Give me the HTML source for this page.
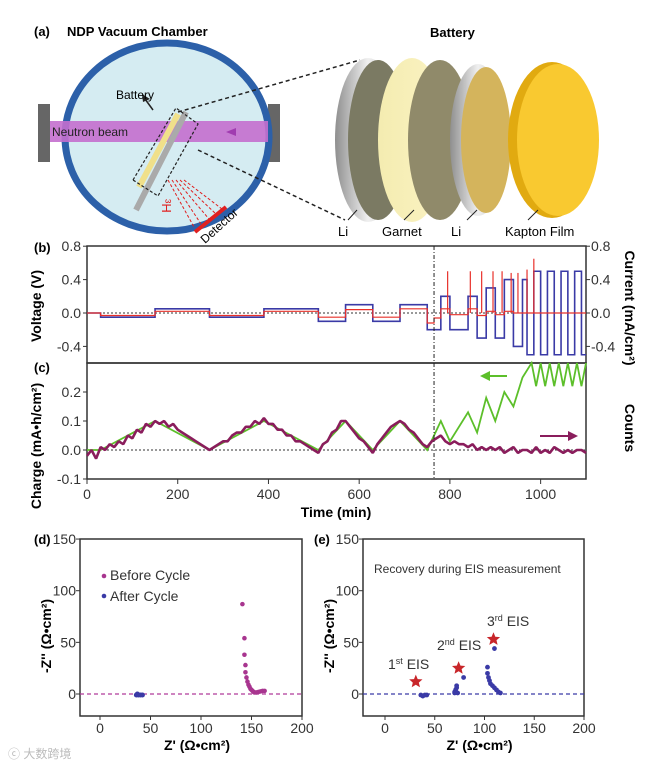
<!DOCTYPE html>
<html><head><meta charset="utf-8">
<style>
body{margin:0;background:#fff;}
svg{display:block;font-family:"Liberation Sans",Arial,sans-serif;}
</style></head>
<body>
<svg id="fig" width="647" height="764" viewBox="0 0 647 764" xmlns="http://www.w3.org/2000/svg">
<rect width="647" height="764" fill="#fff"/>
<!-- Panel a -->
<g id="panel-a">
  <rect x="38" y="104" width="12" height="58" fill="#666"/>
  <rect x="268" y="104" width="12" height="58" fill="#666"/>
  <ellipse cx="167" cy="137" rx="102" ry="94" fill="#d5ecf2" stroke="#2c60a9" stroke-width="7"/>
  <rect x="50" y="121" width="218" height="21" fill="#c46fce" opacity="0.9"/>
  <text x="52" y="136" font-size="12" fill="#222">Neutron beam</text>
  <polygon points="236,128 226,132 236,136" fill="#a03cb0"/>
  <line x1="136" y1="210" x2="186" y2="112" stroke="#aaa" stroke-width="6"/>
  <line x1="139" y1="187" x2="178" y2="114" stroke="#f0e08a" stroke-width="6"/>
  <polygon points="133,180 176,108 198,124 158,196" fill="none" stroke="#222" stroke-width="1.2" stroke-dasharray="3,2"/>
  <line x1="153" y1="110" x2="145" y2="99" stroke="#222" stroke-width="1.5"/>
  <polygon points="142,94 150,99 143,102" fill="#222"/>
  <text x="116" y="99" font-size="12">Battery</text>
  <g stroke="#e02020" stroke-width="1" stroke-dasharray="3,2" fill="none">
    <line x1="168" y1="180" x2="194" y2="227"/><line x1="172" y1="180" x2="201" y2="224"/>
    <line x1="176" y1="180" x2="209" y2="219"/><line x1="180" y1="180" x2="216" y2="214"/>
    <line x1="184" y1="180" x2="222" y2="209"/>
  </g>
  <line x1="195" y1="232" x2="226" y2="207" stroke="#e02020" stroke-width="4"/>
  <text x="0" y="0" font-size="12" transform="translate(205,244) rotate(-42)">Detector</text>
  <text x="0" y="0" font-size="13" fill="#e02020" transform="translate(162,199) rotate(90)">³H</text>
  <line x1="178" y1="112" x2="360" y2="60" stroke="#222" stroke-width="1.5" stroke-dasharray="4,3"/>
  <line x1="198" y1="150" x2="345" y2="220" stroke="#222" stroke-width="1.5" stroke-dasharray="4,3"/>
  <defs>
    <linearGradient id="li" x1="0" x2="1"><stop offset="0" stop-color="#8f8f8f"/><stop offset="0.5" stop-color="#f0f0f0"/><stop offset="1" stop-color="#bdbdbd"/></linearGradient>
    <linearGradient id="gar" x1="0" x2="1"><stop offset="0" stop-color="#f4ecb0"/><stop offset="1" stop-color="#fbf3c4"/></linearGradient>
  </defs>
  <g>
    <ellipse cx="368" cy="140" rx="33" ry="82" fill="url(#li)"/>
    <ellipse cx="378" cy="140" rx="30" ry="80" fill="#7b7a63"/>
    <ellipse cx="412" cy="140" rx="34" ry="82" fill="url(#gar)"/>
    <ellipse cx="440" cy="140" rx="32" ry="80" fill="#908a6a"/>
    <ellipse cx="478" cy="140" rx="28" ry="76" fill="url(#li)"/>
    <ellipse cx="486" cy="140" rx="25" ry="73" fill="#d4b45c"/>
    <ellipse cx="552" cy="140" rx="44" ry="78" fill="#e1aa10"/>
    <ellipse cx="558" cy="140" rx="41" ry="76" fill="#f9c930"/>
  </g>
  <g stroke="#222" stroke-width="1"><line x1="348" y1="220" x2="357" y2="210"/><line x1="404" y1="220" x2="414" y2="210"/><line x1="467" y1="220" x2="477" y2="210"/><line x1="528" y1="220" x2="538" y2="210"/></g>
  <g font-size="13">
    <text x="338" y="236">Li</text>
    <text x="382" y="236">Garnet</text>
    <text x="451" y="236">Li</text>
    <text x="505" y="236">Kapton Film</text>
  </g>
  <text x="34" y="36" font-size="13" font-weight="bold">(a)</text>
  <text x="67" y="36" font-size="13" font-weight="bold">NDP Vacuum Chamber</text>
  <text x="430" y="37" font-size="13" font-weight="bold">Battery</text>
</g>
<g id="bc"></g>
<g id="de"></g>
<text x="8" y="758" font-size="12" fill="#bbb" font-family="Liberation Sans, Noto Sans CJK SC, sans-serif">ⓒ 大数跨境</text>
</svg>
<script>
// ---- Panel b/c data ----
const stepTimes = [0,30,150,270,390,510,570,630,690,750,780,800,840,860,880,900,920,940,960,970,985,1000,1015,1030,1045,1060,1075,1090,1100];
const stepCurrents = [0,-0.05,0.05,-0.05,0.05,-0.1,0.1,-0.1,0.1,-0.2,0.2,-0.2,0.2,-0.3,0.3,-0.3,0.4,-0.4,0.4,-0.5,0.5,-0.5,0.5,-0.5,0.5,-0.5,0.5,-0.5];
const voltTimes = [0,30,150,270,390,510,570,630,690,750,765,780,800,840,860,880,900,920,940,960,1100];
const voltValues = [0,-0.03,0.02,-0.03,0.02,-0.05,0.04,-0.05,0.05,-0.12,-0.06,0.05,-0.02,0.05,-0.03,0.02,-0.02,0.02,0.0,0.0,0.0];
const spikeTimes = [795,845,870,895,915,935,950,970,985];
const spikeValues = [0.5,0.5,0.5,0.5,0.5,0.48,0.48,0.52,0.65];
const chargeTimes = [0,30,150,270,390,510,570,630,690,750,780,800,840,860,880,900,920,940,960,980,990,1000,1010,1020,1030,1040,1050,1060,1070,1080,1090,1100];
const chargeValues = [0,0,0.1,0,0.1,0,0.1,0,0.1,0,0.1,0.03,0.13,0.06,0.18,0.1,0.2,0.15,0.25,0.3,0.22,0.3,0.22,0.3,0.22,0.3,0.22,0.3,0.22,0.3,0.22,0.3];
const countsValues = [-0.02,0.0,-0.03,0.01,0.0,0.02,0.01,0.03,0.02,0.05,0.04,0.07,0.06,0.09,0.08,0.1,0.09,0.1,0.08,0.09,0.07,0.06,0.05,0.04,0.03,0.02,0.01,0.0,0.01,0.02,0.03,0.03,0.05,0.06,0.06,0.08,0.08,0.1,0.09,0.11,0.09,0.09,0.07,0.07,0.05,0.05,0.03,0.03,0.02,0.01,0.0,-0.01,0.02,0.03,0.06,0.07,0.1,0.1,0.08,0.06,0.04,0.03,0.01,-0.01,0.02,0.04,0.06,0.08,0.09,0.1,0.09,0.07,0.06,0.04,0.02,0.01,0.03,0.04,0.05,0.03,0.02,0.03,0.02,0.02,0.01,0.02,0.0,0.01,0.0,0.01,0.0,0.01,-0.01,0.0,0.01,-0.01,0.0,0.0,-0.01,0.01,-0.01,0.0,-0.01,0.01,0.0,-0.01,0.0,-0.01,0.0,0.0,-0.01];
const countsStep = 10;
const timeTicks = [0,200,400,600,800,1000];
const bTicks = [0.8,0.4,0.0,-0.4];
const cTicks = [0.2,0.1,0.0,-0.1];
// ---- Panel d/e data ----
const beforeZr = [141,143,143,144,144,145,146,147,148,149,150,151,152,153,155,157,159,161,163];
const beforeZi = [87,54,38,28,21,16,12,9,7,5,4,3,2,1.5,1.5,2,2.5,3,3];
const afterZr = [36,37,38,40,42];
const afterZi = [-1,0,-1,-1,-1];
const eisZr = [36,38,40,42,70,71,72,72,70,73,79,103,103,104,105,106,108,110,112,114,116,110];
const eisZi = [-1,-2,-1,-1,2,4,6,8,1,1,16,26,20,16,13,10,8,6,4,2,1,44];
const starZr = [31,74,109];
const starZi = [12,25,53];
const zTicks = [0,50,100,150,200];
const ziTicks = [0,50,100,150];

const NS='http://www.w3.org/2000/svg';
function mk(parent,tag,attrs){const e=document.createElementNS(NS,tag);for(const k in attrs)e.setAttribute(k,attrs[k]);parent.appendChild(e);return e;}
const bc=document.getElementById('bc');
const X0=87,X1=586;
const xT=t=>X0+t*(X1-X0)/1100;
const yB=v=>313-v*83.5;
const yC=v=>450-v*290;

let f=mk(bc,'rect',{x:X0,y:246,width:X1-X0,height:117,fill:'none',stroke:'#333','stroke-width':1.5});

f=mk(bc,'rect',{x:X0,y:363,width:X1-X0,height:116,fill:'none',stroke:'#333','stroke-width':1.5});

mk(bc,'line',{x1:X0,x2:X1,y1:yB(0),y2:yB(0),stroke:'#333','stroke-dasharray':'2,2'});
mk(bc,'line',{x1:X0,x2:X1,y1:yC(0),y2:yC(0),stroke:'#333','stroke-dasharray':'2,2'});
bTicks.forEach(v=>{
  mk(bc,'line',{x1:X0-4,x2:X0,y1:yB(v),y2:yB(v),stroke:'#333'});
  mk(bc,'line',{x1:X1,x2:X1+4,y1:yB(v),y2:yB(v),stroke:'#333'});
  const lab=v.toFixed(1);
  let t=mk(bc,'text',{x:X0-6,y:yB(v)+5,'font-size':14,'text-anchor':'end',fill:'#333'});t.textContent=lab;
  
  t=mk(bc,'text',{x:X1+5,y:yB(v)+5,'font-size':14,fill:'#333'});t.textContent=lab;
  
});
cTicks.forEach(v=>{
  mk(bc,'line',{x1:X0-4,x2:X0,y1:yC(v),y2:yC(v),stroke:'#333'});
  const t=mk(bc,'text',{x:X0-6,y:yC(v)+5,'font-size':14,'text-anchor':'end',fill:'#333'});t.textContent=v.toFixed(1);
  
});
timeTicks.forEach(v=>{
  mk(bc,'line',{x1:xT(v),x2:xT(v),y1:479,y2:484,stroke:'#333'});
  const t=mk(bc,'text',{x:xT(v),y:499,'font-size':14,'text-anchor':'middle',fill:'#333'});t.textContent=v;
  
});
let d='';
for(let i=0;i<stepCurrents.length;i++){d+=(i?'L':'M')+xT(stepTimes[i])+','+yB(stepCurrents[i])+'L'+xT(stepTimes[i+1])+','+yB(stepCurrents[i]);}
let p=mk(bc,'path',{d:d,fill:'none',stroke:'#3a3aa6','stroke-width':1.6});

d='';
for(let i=0;i<voltValues.length-1;i++){d+=(i?'L':'M')+xT(voltTimes[i])+','+yB(voltValues[i])+'L'+xT(voltTimes[i+1])+','+yB(voltValues[i]);}
p=mk(bc,'path',{d:d,fill:'none',stroke:'#e8302a','stroke-width':1.2});

spikeTimes.forEach((t,i)=>{
  const s=mk(bc,'line',{x1:xT(t),x2:xT(t),y1:yB(0),y2:yB(spikeValues[i]),stroke:'#e8302a','stroke-width':1.2});
  
});
d=chargeTimes.map((t,i)=>(i?'L':'M')+xT(t)+','+yC(chargeValues[i])).join('');
p=mk(bc,'path',{d:d,fill:'none',stroke:'#5cbf2a','stroke-width':1.8});

d=countsValues.map((v,i)=>(i?'L':'M')+xT(i*countsStep)+','+yC(v)).join('');
p=mk(bc,'path',{d:d,fill:'none',stroke:'#8a1d5c','stroke-width':2.6,'stroke-linejoin':'bevel'});

mk(bc,'line',{x1:xT(765),x2:xT(765),y1:246,y2:479,stroke:'#222','stroke-dasharray':'4,2,1,2'});
let a=mk(bc,'line',{x1:488,x2:507,y1:376,y2:376,stroke:'#5cbf2a','stroke-width':2});

mk(bc,'polygon',{points:'480,376 490,371 490,381',fill:'#5cbf2a'});
a=mk(bc,'line',{x1:540,x2:570,y1:436,y2:436,stroke:'#8a1d5c','stroke-width':2});

mk(bc,'polygon',{points:'578,436 568,431 568,441',fill:'#8a1d5c'});
const addT=(x,y,txt,attrs,name)=>{const t=mk(bc,'text',Object.assign({x:x,y:y},attrs));t.textContent=txt;return t;};
addT(34,252,'(b)',{'font-size':13,'font-weight':'bold'},'panel-b-label');
addT(34,372,'(c)',{'font-size':13,'font-weight':'bold'},'panel-c-label');
addT(0,0,'Voltage (V)',{'font-size':14,'font-weight':'bold','text-anchor':'middle',transform:'translate(41,306) rotate(-90)'},'voltage-axis-title');
addT(0,0,'Charge (mA•h/cm²)',{'font-size':14,'font-weight':'bold','text-anchor':'middle',transform:'translate(41,446) rotate(-90)'},'charge-axis-title');
addT(0,0,'Current (mA/cm²)',{'font-size':14,'font-weight':'bold','text-anchor':'middle',transform:'translate(625,308) rotate(90)'},'current-axis-title');
addT(0,0,'Counts',{'font-size':14,'font-weight':'bold','text-anchor':'middle',transform:'translate(625,428) rotate(90)'},'counts-axis-title');
addT(336,517,'Time (min)',{'font-size':14,'font-weight':'bold','text-anchor':'middle'},'time-axis-title');

// ---- d/e ----
const de=document.getElementById('de');
const yZ=v=>694-v*1.033;
function panel(L,R,z0,zScale,label,lx,name){
  const xZ=z=>z0+z*zScale;
  const g=mk(de,'g',{});
  
  mk(g,'rect',{x:L,y:539,width:R-L,height:177,fill:'none',stroke:'#333','stroke-width':1.5});
  ziTicks.forEach(v=>{mk(g,'line',{x1:L-4,x2:L,y1:yZ(v),y2:yZ(v),stroke:'#333'});
    const t=mk(g,'text',{x:L-4,y:yZ(v)+5,'font-size':14,'text-anchor':'end',fill:'#333'});t.textContent=v;
    });
  zTicks.forEach(v=>{mk(g,'line',{x1:xZ(v),x2:xZ(v),y1:716,y2:720,stroke:'#333'});
    const t=mk(g,'text',{x:xZ(v),y:733,'font-size':14,'text-anchor':'middle',fill:'#333'});t.textContent=v;
    });
  let t=mk(g,'text',{x:lx,y:544,'font-size':13,'font-weight':'bold'});t.textContent=label;
  
  t=mk(g,'text',{transform:'translate('+(L-29)+',636) rotate(-90)','font-size':14,'font-weight':'bold','text-anchor':'middle'});t.textContent='-Z\'\' (Ω•cm²)';
  
  t=mk(g,'text',{x:(L+R)/2+6,y:750,'font-size':14,'font-weight':'bold','text-anchor':'middle'});t.textContent='Z\' (Ω•cm²)';
  
  return {g,xZ};
}
const D=panel(80,302,100,1.01,'(d)',34,'panel-d');
mk(D.g,'line',{x1:80,x2:302,y1:yZ(0),y2:yZ(0),stroke:'#b03a9a','stroke-dasharray':'4,3','stroke-width':1.2});
beforeZr.forEach((z,i)=>{const c=mk(D.g,'circle',{cx:D.xZ(z),cy:yZ(beforeZi[i]),r:2.3,fill:'#a8358f'});});
afterZr.forEach((z,i)=>{const c=mk(D.g,'circle',{cx:D.xZ(z),cy:yZ(afterZi[i]),r:2.5,fill:'#3a3aa6'});});
mk(D.g,'circle',{cx:104,cy:576,r:2.3,fill:'#a8358f'});
let lt=mk(D.g,'text',{x:110,y:580,'font-size':14,fill:'#333'});lt.textContent='Before Cycle';

mk(D.g,'circle',{cx:104,cy:596,r:2.3,fill:'#3a3aa6'});
lt=mk(D.g,'text',{x:110,y:601,'font-size':14,fill:'#333'});lt.textContent='After Cycle';


const E=panel(363,584,385,0.995,'(e)',314,'panel-e');
mk(E.g,'line',{x1:363,x2:584,y1:yZ(0),y2:yZ(0),stroke:'#3a3aa6','stroke-dasharray':'4,3','stroke-width':1.2});
eisZr.forEach((z,i)=>{const c=mk(E.g,'circle',{cx:E.xZ(z),cy:yZ(eisZi[i]),r:2.4,fill:'#3a3aa6'});});
function star(cx,cy,r){let pts=[];for(let k=0;k<10;k++){const a=-Math.PI/2+k*Math.PI/5;const rr=k%2?r*0.45:r;pts.push((cx+rr*Math.cos(a)).toFixed(1)+','+(cy+rr*Math.sin(a)).toFixed(1));}return pts.join(' ');}
starZr.forEach((z,i)=>{const s=mk(E.g,'polygon',{points:star(E.xZ(z),yZ(starZi[i]),7),fill:'#c8262a'});});
lt=mk(E.g,'text',{x:374,y:573,'font-size':12,fill:'#333'});lt.textContent='Recovery during EIS measurement';

const eisLab=[[388,669,'1','st'],[437,650,'2','nd'],[487,626,'3','rd']];
eisLab.forEach(a=>{const t=mk(E.g,'text',{x:a[0],y:a[1],'font-size':14,fill:'#333'});
  t.innerHTML=a[2]+'<tspan font-size="9" dy="-5">'+a[3]+'</tspan><tspan dy="5"> EIS</tspan>';
  });
</script>
</body></html>
